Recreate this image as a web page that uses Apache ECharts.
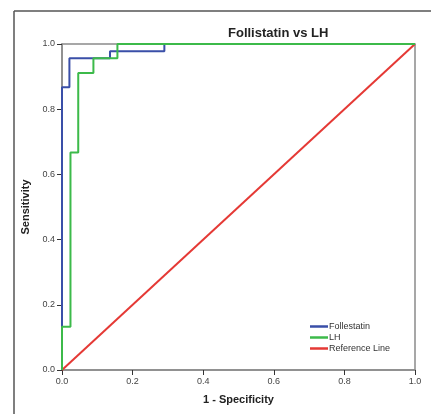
<!DOCTYPE html>
<html>
<head>
<meta charset="utf-8">
<script src="https://cdn.jsdelivr.net/npm/echarts@6/dist/echarts.min.js"></script>
<style>
  html, body { margin: 0; padding: 0; background: #fff; }
  #chart { width: 431px; height: 414px; }
</style>
</head>
<body>
<div id="chart"></div>
<script>
// ROC points (1 - specificity, sensitivity), drawn as steps
const follFpr = [0, 0, 0.021, 0.136, 0.29, 1]
const follTpr = [0, 0.867, 0.956, 0.978, 1, 1]
const lhFpr = [0, 0, 0.024, 0.046, 0.089, 0.157, 1]
const lhTpr = [0, 0.133, 0.667, 0.911, 0.956, 1, 1]
const refX = [0, 1]
const refY = [0, 1]
const ticks = [0, 0.2, 0.4, 0.6, 0.8, 1.0]

const pairs = (xs, ys) => xs.map((x, i) => [x, ys[i]])
const font = 'Liberation Sans, Arial, sans-serif'

const axisCommon = {
  type: 'value',
  min: ticks[0],
  max: ticks[ticks.length - 1],
  interval: 0.2,
  nameLocation: 'middle',
  nameTextStyle: { fontFamily: font, fontSize: 11, fontWeight: 'bold', color: '#222' },
  axisLine: { show: true, lineStyle: { color: '#8a8a8a', width: 1.5 } },
  axisTick: { show: true, length: 5, lineStyle: { color: '#333' } },
  axisLabel: {
    fontFamily: font, fontSize: 9, color: '#444', margin: 7,
    formatter: (v) => v.toFixed(1)
  },
  splitLine: { show: false }
}

const chart = echarts.init(document.getElementById('chart'))
chart.setOption({
  animation: false,
  backgroundColor: '#fff',
  title: {
    text: 'Follistatin vs LH',
    left: 228,
    top: 27,
    padding: 0,
    textStyle: { fontFamily: font, fontSize: 13, fontWeight: 'bold', color: '#222' }
  },
  grid: {
    left: 62, right: 16, top: 44, bottom: 44,
    show: true, borderColor: '#8a8a8a', borderWidth: 1.5
  },
  legend: {
    orient: 'vertical',
    left: 310,
    top: 321,
    icon: 'rect',
    itemWidth: 18,
    itemHeight: 2.5,
    itemGap: 0,
    padding: 0,
    textStyle: { fontFamily: font, fontSize: 9, color: '#333', lineHeight: 11, padding: [0, 0, 0, -4] },
    data: ['Follestatin', 'LH', 'Reference Line']
  },
  xAxis: Object.assign({}, axisCommon, { name: '1 - Specificity', nameGap: 24 }),
  yAxis: Object.assign({}, axisCommon, { name: 'Sensitivity', nameGap: 25 }),
  graphic: [
    { type: 'line', shape: { x1: 14, y1: 11, x2: 14, y2: 414 }, style: { stroke: '#555', lineWidth: 1.5 } },
    { type: 'line', shape: { x1: 14, y1: 11, x2: 431, y2: 11 }, style: { stroke: '#555', lineWidth: 1.5 } }
  ],
  series: [
    {
      name: 'Reference Line', type: 'line', symbol: 'none', z: 2,
      data: pairs(refX, refY),
      lineStyle: { color: '#e53935', width: 2 }, itemStyle: { color: '#e53935' }
    },
    {
      name: 'Follestatin', type: 'line', step: 'end', symbol: 'none', z: 3,
      data: pairs(follFpr, follTpr),
      lineStyle: { color: '#3a4fa8', width: 2 }, itemStyle: { color: '#3a4fa8' }
    },
    {
      name: 'LH', type: 'line', step: 'end', symbol: 'none', z: 4,
      data: pairs(lhFpr, lhTpr),
      lineStyle: { color: '#3cba4a', width: 2 }, itemStyle: { color: '#3cba4a' }
    }
  ]
})
</script>
</body>
</html>
